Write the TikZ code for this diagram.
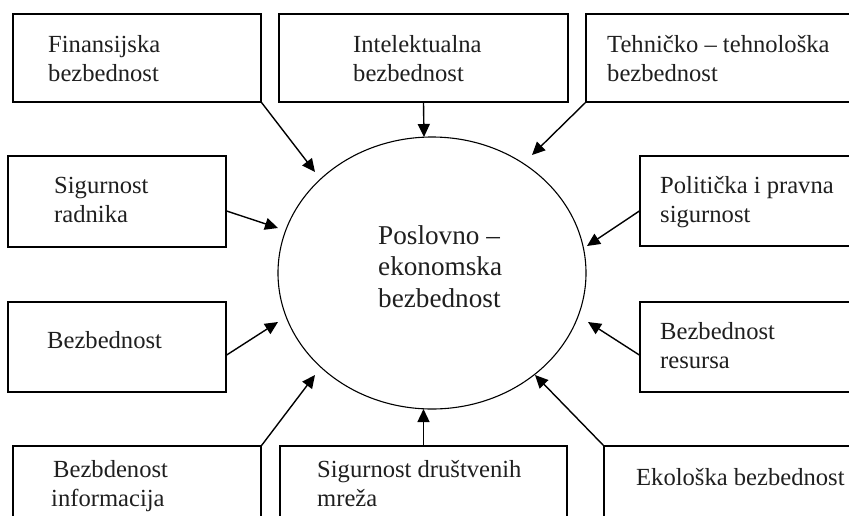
\documentclass[tikz,border=0pt]{standalone}
\usepackage{fontspec}
\setmainfont{Liberation Serif}
\usetikzlibrary{arrows.meta,shapes.geometric}
\begin{document}
\begin{tikzpicture}[x=1pt,y=-1pt,
  box/.style={draw,line width=1.3pt,rectangle,inner sep=0pt},
  lbl/.style={anchor=base west,inner sep=0pt,align=left,
    font=\fontsize{24.6}{28.7}\selectfont,text=black!88},
  ctr/.style={anchor=base west,inner sep=0pt,align=left,
    font=\fontsize{27.2}{31.5}\selectfont,text=black!88},
  conn/.style={line width=1.4pt,-{Triangle[length=13pt,width=12pt]}}]
\useasboundingbox (0,0) rectangle (849,515);
\clip (0,0) rectangle (849,515);
% central ellipse
\node[draw,ellipse,line width=1.1pt,minimum width=308pt,minimum height=272pt,inner sep=0pt] (E) at (432,273) {};
\node[ctr] (tc) at (378,307) {Poslovno --\\ekonomska\\bezbednost};
% boxes
\node[box,minimum width=248pt,minimum height=88pt] (b1) at (137,58) {};
\node[box,minimum width=289pt,minimum height=88pt] (b2) at (423.5,58) {};
\node[box,minimum width=269pt,minimum height=88pt] (b3) at (720.5,58) {};
\node[box,minimum width=218pt,minimum height=91pt] (b4) at (117,201.5) {};
\node[box,minimum width=218pt,minimum height=90pt] (b5) at (117,347) {};
\node[box,minimum width=215pt,minimum height=90pt] (b6) at (747.5,201) {};
\node[box,minimum width=215pt,minimum height=90pt] (b7) at (747.5,347) {};
\node[box,minimum width=248pt,minimum height=79pt] (b8) at (137,485.5) {};
\node[box,minimum width=287pt,minimum height=79pt] (b9) at (423.5,485.5) {};
\node[box,minimum width=251pt,minimum height=79pt] (b10) at (729.5,485.5) {};
% texts (position = baseline of last line)
\node[lbl] (l1) at (48,81) {Finansijska\\bezbednost};
\node[lbl] (l2) at (353,81) {Intelektualna\\bezbednost};
\node[lbl] (l3) at (607,81) {Tehničko -- tehnološka\\bezbednost};
\node[lbl] (l4) at (54,222) {Sigurnost\\radnika};
\node[lbl] (l5) at (47,348) {Bezbednost};
\node[lbl] (l6) at (660,222) {Politička i pravna\\sigurnost};
\node[lbl] (l7) at (660,368) {Bezbednost\\resursa};
\node[lbl] (l8) at (53,506) {Bezbdenost\\\hspace*{-2pt}informacija};
\node[lbl] (l9) at (317,506) {Sigurnost društvenih\\mreža};
\node[lbl] (l10) at (636,485) {Ekološka bezbednost};
% arrow tips
\coordinate (t1) at (315,172);
\coordinate (t2) at (424,137);
\coordinate (t3) at (532,155);
\coordinate (t4) at (278,228);
\coordinate (t5) at (278,322);
\coordinate (t6) at (587,246);
\coordinate (t7) at (588,322);
\coordinate (t8) at (315,375);
\coordinate (t9) at (423.5,409);
\coordinate (t10) at (535,375);
% connectors
\draw[conn] (b1.south east) -- (t1);
\draw[conn] (b2.south) -- (t2);
\draw[conn] (b3.south west) -- (t3);
\draw[conn] ([yshift=-9.5pt]b4.east) -- (t4);
\draw[conn] ([yshift=-8pt]b5.east) -- (t5);
\draw[conn] ([yshift=-10pt]b6.west) -- (t6);
\draw[conn] ([yshift=-8pt]b7.west) -- (t7);
\draw[conn] (b8.north east) -- (t8);
\draw[conn] (b9.north) -- (t9);
\draw[conn] (b10.north west) -- (t10);
\end{tikzpicture}
\end{document}
